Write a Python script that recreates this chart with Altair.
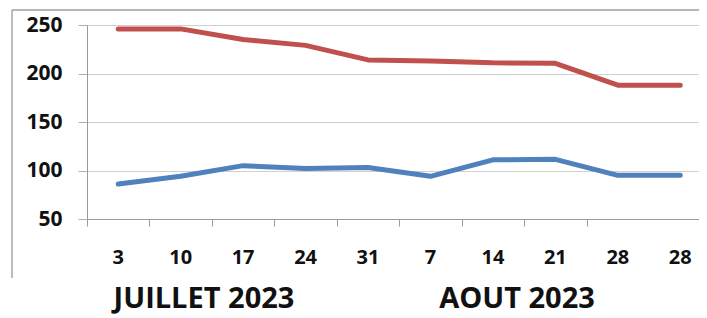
import altair as alt
import pandas as pd

days = ["3", "10", "17", "24", "31", "7", "14", "21", "28", "28"]
red_vals = [246, 246, 235, 229, 214, 213, 211, 210.5, 188, 188]
blue_vals = [86, 94, 105, 102, 103, 94, 111, 111.5, 95, 95]
months = ["JUILLET 2023", "AOUT 2023"]
series = ["rouge", "bleu"]
colors = ["#C0504D", "#4F81BD"]
y_ticks = [50, 100, 150, 200, 250]

idx = list(range(len(days)))
df = pd.DataFrame({
    "i": idx * 2,
    "v": red_vals + blue_vals,
    "s": [series[0]] * len(days) + [series[1]] * len(days),
})
lab_df = pd.DataFrame({"i": idx, "day": days})
month_df = pd.DataFrame({"m": months, "px": [117, 430]})

FONT = "Open Sans"
W, H = 612, 194

xscale = alt.Scale(domain=[-0.5, 9.3], nice=False, zero=False)
yscale = alt.Scale(domain=[50, 250], nice=False, zero=False)

lines = alt.Chart(df).mark_line(strokeWidth=5, strokeCap="round", strokeJoin="round").encode(
    x=alt.X("i:Q", scale=xscale,
            axis=alt.Axis(values=[k - 0.5 for k in idx[:-1]], labels=False, title=None,
                          grid=False, tickColor="#9a9a9a", domainColor="#9a9a9a",
                          tickSize=7, tickWidth=1, domainWidth=1)),
    y=alt.Y("v:Q", scale=yscale,
            axis=alt.Axis(values=y_ticks, title=None, grid=True, gridColor="#d0d0d0",
                          gridWidth=1, domainColor="#9a9a9a", tickColor="#b0b0b0",
                          tickSize=9, labelPadding=16, labelFont=FONT,
                          labelFontSize=21, labelFontWeight="bold", labelColor="#111111")),
    color=alt.Color("s:N", scale=alt.Scale(domain=series, range=colors), legend=None),
    detail="s:N",
)

day_text = alt.Chart(lab_df).mark_text(
    font=FONT, fontSize=20, fontWeight="bold", color="#111111", baseline="middle", align="center"
).encode(
    x=alt.X("i:Q", scale=xscale),
    y=alt.value(233),
    text="day:N",
)

month_text = alt.Chart(month_df).mark_text(
    font=FONT, fontSize=29, fontWeight="bold", color="#111111", baseline="middle", align="center"
).encode(
    x=alt.X("px:Q", scale=None),
    y=alt.value(274),
    text="m:N",
)

frame_left = alt.Chart(month_df).mark_rule(color="#b0b0b0", strokeWidth=1.2).encode(
    x=alt.value(-75), y=alt.value(-15), y2=alt.value(253)
)
frame_top = alt.Chart(month_df).mark_rule(color="#a0a0a0", strokeWidth=1.2).encode(
    y=alt.value(-15), x=alt.value(-75), x2=alt.value(613)
)

chart = alt.layer(frame_left, frame_top, lines, day_text, month_text).properties(
    width=W, height=H,
    autosize=alt.AutoSizeParams(type="none"),
    padding={"left": 79, "top": 17, "right": 0, "bottom": 98},
).configure_view(stroke=None).configure(background="white")

chart.save("out.html", embed_options={"renderer": "svg", "actions": False})
